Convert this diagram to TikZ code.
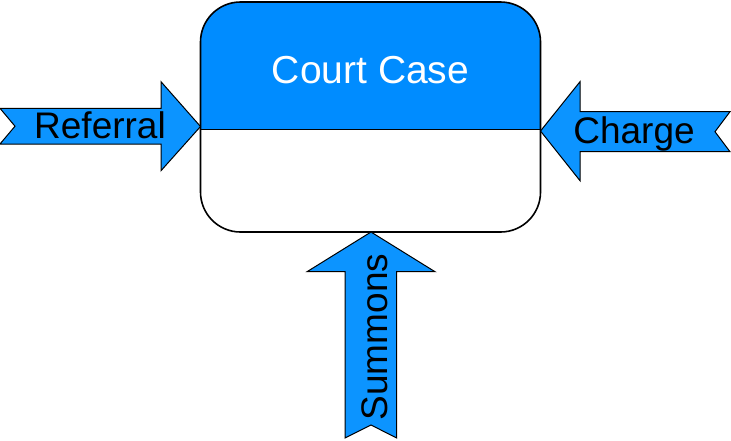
\documentclass[tikz,border=0pt]{standalone}
\usepackage{fontspec}
\setmainfont{Liberation Sans}
\usepackage{xcolor}
\usepackage{tikz}
\usetikzlibrary{positioning,calc}
\definecolor{caseblue}{RGB}{0,140,255}
\definecolor{feedblue}{RGB}{12,148,255}

\begin{document}
\begin{tikzpicture}[x=.5pt,y=-.5pt,
  casebox/.style={draw=black,line width=.8pt,rounded corners=20pt},
  casehead/.style={fill=caseblue},
  divider/.style={draw=black,line width=.8pt},
  feed/.style={draw=black,line width=.5pt,fill=feedblue,line join=miter},
  feedtext/.style={font=\fontsize{18.5}{22}\selectfont,text=black,anchor=base,inner sep=0pt},
  headtext/.style={font=\fontsize{19.5}{23}\selectfont,text=white,anchor=base,inner sep=0pt}]

\path[use as bounding box] (0,0) rectangle (731,440);
% court case box, blue head on top
\begin{scope}
  \clip[rounded corners=20pt] (200.5,2) rectangle (540.5,232);
  \fill[casehead] (200.5,2) rectangle (540.5,129.5);
\end{scope}
\draw[divider] (200.5,129.5)--(540.5,129.5);
\draw[casebox] (200.5,2) rectangle (540.5,232);
\node[headtext] (case) at (370.5,83) {Court Case};
% incoming arrows
\coordinate (refin) at (200.5,126.5);
\coordinate (chgin) at (540.5,131);
\coordinate (sumin) at (371,232);
\draw[feed] (0,108.3)--(161,108.3)--(161,81.7)--(refin)--(161,170.7)--(161,144)
  --(0,144)--(15,126.2)--cycle;
\draw[feed] (730,111.7)--(580,111.7)--(580,81.7)--(chgin)--(580,180.7)--(580,151.7)
  --(730,151.7)--(715,131.7)--cycle;
\draw[feed] (345,438)--(345,271.7)--(307,271.7)--(sumin)--(435,271.7)--(396.7,271.7)
  --(396.7,438)--(371,425)--cycle;
\node[feedtext] (referral) at (100,138.3) {Referral};
\node[feedtext] (charge) at (634,143.5) {Charge};
\node[feedtext,rotate=90] (summons) at (387,337) {Summons};

\end{tikzpicture}
\end{document}
